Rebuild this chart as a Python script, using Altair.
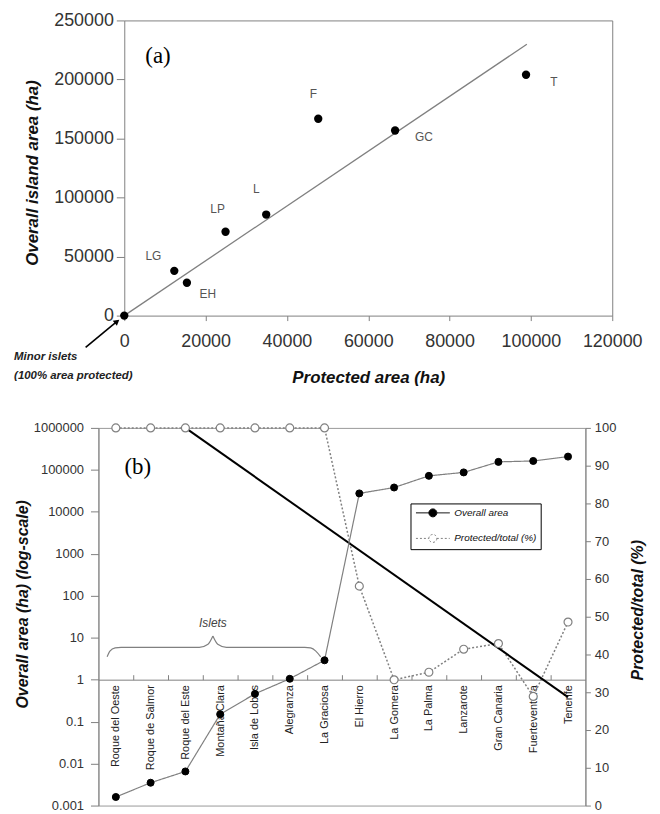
import json
import altair as alt
import pandas as pd

# ---------------- panel (a) data ----------------
island_codes = ["Minor islets", "LG", "EH", "LP", "L", "F", "GC", "T"]
protected_ha = [0, 12300, 15400, 24900, 34900, 47700, 66600, 98800]
overall_ha = [0, 37900, 27800, 71000, 85600, 166700, 156800, 204000]
fit_protected = [0, 99000]
fit_overall = [0, 229800]
x_ticks_a = [0, 20000, 40000, 60000, 80000, 100000, 120000]
y_ticks_a = [0, 50000, 100000, 150000, 200000, 250000]

note_lines = ["Minor islets", "(100% area protected)"]
note_protected = [-27100, -27100]
note_overall = [-35400, -51400]
arrow_protected = [-9500, -1780]
arrow_overall = [-27000, -4970]
panel_a_text = ["(a)"]
panel_a_protected = [8300]
panel_a_overall = [219700]

# ---------------- panel (b) data ----------------
islands = ["Roque del Oeste", "Roque de Salmor", "Roque del Este", "Montaña Clara",
           "Isla de Lobos", "Alegranza", "La Graciosa", "El Hierro", "La Gomera",
           "La Palma", "Lanzarote", "Gran Canaria", "Fuerteventura", "Tenerife"]
overall_area = [0.0016, 0.0035, 0.0065, 0.15, 0.46, 1.05, 2.9,
                27500, 38000, 72000, 87000, 155000, 163000, 207000]
protected_pct = [100, 100, 100, 100, 100, 100, 100,
                 58.1, 33.3, 35.3, 41.4, 42.9, 28.9, 48.6]
trend_islands = ["Roque del Este", "Tenerife"]
trend_pct = [100, 28.7]
log_ticks = [0.001, 0.01, 0.1, 1, 10, 100, 1000, 10000, 100000, 1000000]
pct_ticks = [0, 10, 20, 30, 40, 50, 60, 70, 80, 90, 100]
series_names = ["Overall area", "Protected/total (%)"]

brace_pos = [-0.25, -0.17, -0.02, 0.15, 2.4, 2.65, 2.79,
             2.79, 2.93, 3.18, 5.43, 5.6, 5.75, 5.89]
brace_val = [3.5, 4.8, 5.7, 5.9, 5.9, 7.0, 11.0,
             11.0, 7.0, 5.9, 5.9, 5.7, 4.8, 3.5]
brace_part = ["left"] * 7 + ["right"] * 7
islets_text = ["Islets"]
islets_pos = [2.79]
islets_val = [23]
panel_b_text = ["(b)"]
panel_b_pos = [0.63]
panel_b_val = [117000]

# ---------------- styles ----------------
FONT = "Liberation Sans"
SERIF = "Liberation Serif"
AX = "#808080"
label_offsets = {"LG": (-21, -15), "EH": (21, 11), "LP": (-8, -23), "L": (-10, -26),
                 "F": (-5, -25), "GC": (29, 7), "T": (28, 7)}

SHIFT_A = 26          # panel (a) plot starts this far right of panel (b)
W_A, H_A = 491, 297
W_B, H_B = 490, 380

# ================= panel (a) =================
df_a = pd.DataFrame({"code": island_codes, "protected": protected_ha, "overall": overall_ha})
xs_a = alt.Scale(domain=[0, 120000], nice=False, zero=False, range=[SHIFT_A, SHIFT_A + W_A])
ys_a = alt.Scale(domain=[0, 250000], nice=False, zero=False)

x_axis_a = alt.Axis(values=x_ticks_a, format="d", title="Protected area (ha)",
                    labelFontSize=18, labelPadding=12, tickSize=5, labelFlush=False,
                    titleFontSize=17, titleFontWeight="bold", titleFontStyle="italic",
                    titlePadding=19, titleX=SHIFT_A + W_A / 2, grid=False)
y_axis_a = alt.Axis(values=y_ticks_a, format="d", title="Overall island area (ha)",
                    labelFontSize=18, labelPadding=3, tickSize=8, offset=-SHIFT_A,
                    titleFontSize=17, titleFontWeight="bold", titleFontStyle="italic",
                    titlePadding=12, titleY=153, grid=False)
x_top_a = alt.Axis(orient="top", labels=False, ticks=False, domain=True, title=None, grid=False)
y_right_a = alt.Axis(orient="right", labels=False, ticks=False, domain=True, title=None, grid=False)

xa = lambda: alt.X("protected:Q", scale=xs_a, axis=None)
ya = lambda: alt.Y("overall:Q", scale=ys_a, axis=None)

fit_a = alt.Chart(pd.DataFrame({"protected": fit_protected, "overall": fit_overall})).mark_line(
    color=AX, strokeWidth=1.3).encode(x=alt.X("protected:Q", scale=xs_a, axis=x_axis_a),
                                      y=alt.Y("overall:Q", scale=ys_a, axis=y_axis_a))
pts_a = alt.Chart(df_a).mark_circle(size=70, color="black", opacity=1).encode(
    x=alt.X("protected:Q", scale=xs_a, axis=x_top_a),
    y=alt.Y("overall:Q", scale=ys_a, axis=y_right_a))

label_layers = []
for code, (dx, dy) in label_offsets.items():
    label_layers.append(
        alt.Chart(df_a).transform_filter(alt.datum.code == code).mark_text(
            dx=dx, dy=dy, fontSize=12, font=FONT, color="#555").encode(
            x=xa(), y=ya(), text="code:N"))

note_a = alt.Chart(pd.DataFrame({"t": note_lines, "protected": note_protected,
                                 "overall": note_overall})).mark_text(
    align="left", baseline="middle", fontSize=11.5, font=FONT, fontStyle="italic",
    fontWeight="bold", color="#222", clip=False).encode(x=xa(), y=ya(), text="t:N")
arrow_line = alt.Chart(pd.DataFrame({"protected": arrow_protected, "overall": arrow_overall})).mark_line(
    color="black", strokeWidth=1.6, clip=False).encode(x=xa(), y=ya())
arrow_head = alt.Chart(pd.DataFrame({"protected": arrow_protected[-1:], "overall": arrow_overall[-1:]})).mark_point(
    shape="triangle-up", size=45, angle=51, filled=True, color="black", opacity=1, clip=False).encode(x=xa(), y=ya())
tag_a = alt.Chart(pd.DataFrame({"t": panel_a_text, "protected": panel_a_protected,
                                "overall": panel_a_overall})).mark_text(
    font=SERIF, fontSize=23, color="black").encode(x=xa(), y=ya(), text="t:N")

panel_a = alt.layer(fit_a, pts_a, *label_layers, note_a, arrow_line, arrow_head, tag_a).resolve_axis(
    x="independent", y="independent").properties(
    width=SHIFT_A + W_A, height=H_A, view=alt.ViewBackground(stroke="transparent"))

# ================= panel (b) =================
n = len(islands)
df_b = pd.DataFrame({"idx": list(range(n)), "island": islands,
                     "overall": overall_area, "pct": protected_pct})
xs_b = alt.Scale(domain=[-0.5, n - 0.5], nice=False, zero=False)
ylog = alt.Scale(type="log", domain=[0.001, 1000000], nice=False)
ypct = alt.Scale(domain=[0, 100], nice=False, zero=False)

one_from_bottom = H_B * 3 / 9
label_expr = json.dumps(islands, ensure_ascii=False) + "[datum.value]"
x_lab_axis = alt.Axis(values=list(range(n)), labelExpr=label_expr, orient="bottom",
                      offset=-one_from_bottom, labelAngle=-90, labelAlign="right",
                      labelBaseline="middle", labelFontSize=11, labelPadding=5,
                      labelColor="#222", ticks=False, domain=False, title=None,
                      grid=False, labelOverlap=False)
x_tick_axis = alt.Axis(values=[i + 0.5 for i in range(n - 1)], orient="top",
                       offset=-(H_B - one_from_bottom), labels=False, ticks=True,
                       tickSize=5, domain=True, title=None, grid=False)
y_log_axis = alt.Axis(values=log_ticks, format="~f", title="Overall area (ha) (log-scale)",
                      labelFontSize=13, tickSize=8, labelPadding=7, titleFontSize=16,
                      titleFontWeight="bold", titleFontStyle="italic", titlePadding=3,
                      titleY=177, grid=False)
y_pct_axis = alt.Axis(orient="right", values=pct_ticks, title="Protected/total (%)",
                      labelFontSize=13, tickSize=5, labelPadding=4, titleFontSize=16,
                      titleFontWeight="bold", titleFontStyle="italic", titlePadding=14,
                      titleAngle=270, titleBaseline="top", titleY=183, grid=False)

sym_path = "M-3.4,0L-0.8,0M0.8,0L3.4,0M0.8,0A0.8,0.8,0,1,1,-0.8,0A0.8,0.8,0,1,1,0.8,0Z"
legend_b = alt.Legend(title=None, orient="none", legendX=314, legendY=76, direction="vertical",
                      strokeColor="black", fillColor="white", padding=4, symbolType=sym_path,
                      symbolSize=100, symbolStrokeWidth=1, symbolOffset=13, labelOffset=16,
                      labelFontSize=10, labelFontStyle="italic", labelFont=FONT,
                      labelColor="#111", rowPadding=12.7)
dash_scale = alt.Scale(domain=series_names, range=[[1, 0], [2, 2]])
fill_scale = alt.Scale(domain=series_names, range=["black", "white"])
stroke_scale = alt.Scale(domain=series_names, range=["black", "#808080"])

xb = lambda: alt.X("idx:Q", scale=xs_b, axis=None)

base_b = alt.Chart(df_b)
s_over = f'"{series_names[0]}"'
s_pct = f'"{series_names[1]}"'

pct_line = base_b.transform_calculate(series=s_pct).mark_line(color="#808080", strokeWidth=1.5).encode(
    x=alt.X("idx:Q", scale=xs_b, axis=x_tick_axis),
    y=alt.Y("pct:Q", scale=ypct, axis=y_pct_axis),
    strokeDash=alt.StrokeDash("series:N", scale=dash_scale, legend=legend_b))

trend_df = pd.DataFrame({"idx": [islands.index(s) for s in trend_islands], "pct": trend_pct})
trend_line = alt.Chart(trend_df).mark_line(color="black", strokeWidth=2).encode(
    x=xb(), y=alt.Y("pct:Q", scale=ypct, axis=None))

over_line = base_b.transform_calculate(series=s_over).mark_line(color="#808080", strokeWidth=1.2).encode(
    x=alt.X("idx:Q", scale=xs_b, axis=x_lab_axis),
    y=alt.Y("overall:Q", scale=ylog, axis=y_log_axis),
    strokeDash=alt.StrokeDash("series:N", scale=dash_scale, legend=legend_b))

over_pts = base_b.transform_calculate(series=s_over).mark_point(
    shape="circle", size=50, opacity=1, strokeWidth=1).encode(
    x=xb(), y=alt.Y("overall:Q", scale=ylog, axis=None),
    fill=alt.Fill("series:N", scale=fill_scale, legend=legend_b),
    stroke=alt.Stroke("series:N", scale=stroke_scale, legend=legend_b))

pct_pts = base_b.transform_calculate(series=s_pct).mark_point(
    shape="circle", size=64, opacity=1, strokeWidth=1.2).encode(
    x=xb(), y=alt.Y("pct:Q", scale=ypct, axis=None),
    fill=alt.Fill("series:N", scale=fill_scale, legend=legend_b),
    stroke=alt.Stroke("series:N", scale=stroke_scale, legend=legend_b))

brace = alt.Chart(pd.DataFrame({"idx": brace_pos, "v": brace_val, "part": brace_part})).mark_line(
    color="#808080", strokeWidth=1.2, interpolate="monotone").encode(
    x=xb(), y=alt.Y("v:Q", scale=ylog, axis=None), detail="part:N")

islets = alt.Chart(pd.DataFrame({"idx": islets_pos, "v": islets_val, "t": islets_text})).mark_text(
    font=FONT, fontSize=12, fontStyle="italic", color="#444").encode(
    x=xb(), y=alt.Y("v:Q", scale=ylog, axis=None), text="t:N")

tag_b = alt.Chart(pd.DataFrame({"idx": panel_b_pos, "v": panel_b_val, "t": panel_b_text})).mark_text(
    font=SERIF, fontSize=23, color="black").encode(
    x=xb(), y=alt.Y("v:Q", scale=ylog, axis=None), text="t:N")

panel_b = alt.layer(pct_line, trend_line, over_line, over_pts, pct_pts, brace, islets, tag_b).resolve_scale(
    y="independent").resolve_axis(x="independent", y="independent").properties(width=W_B, height=H_B)

chart = alt.concat(panel_a, panel_b, columns=1, spacing=35).resolve_scale(
    fill="independent", stroke="independent", strokeDash="independent").properties(
    padding={"left": 5, "top": 0, "right": 5, "bottom": 0}
).configure_view(stroke="#999", strokeWidth=1).configure_axis(
    labelFont=FONT, titleFont=FONT, domainColor=AX, tickColor=AX,
    labelColor="#333", titleColor="#111", grid=False)

chart.save("out.html", embed_options={"renderer": "svg", "actions": False})
